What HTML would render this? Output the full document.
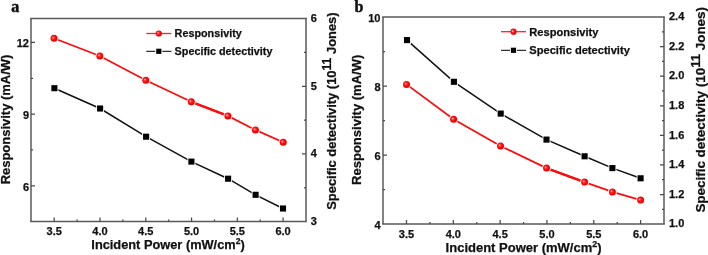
<!DOCTYPE html><html><head><meta charset="utf-8"><style>
html,body{margin:0;padding:0;background:#fff;}
svg{display:block;will-change:transform;}
text{font-family:"Liberation Sans",sans-serif;font-weight:bold;fill:#111;stroke:#111;stroke-width:0.25px;}
.t{font-size:11px;}
.ti{font-size:12.8px;}
.tr{font-size:12.8px;}
.lg{font-size:10.8px;}
.pl{font-family:"Liberation Serif",serif;font-size:16px;stroke:#111;stroke-width:0.45px;}
</style></head><body>
<svg width="708" height="255" viewBox="0 0 708 255">
<rect width="708" height="255" fill="#fff"/>
<defs><radialGradient id="sph" cx="0.45" cy="0.45" r="0.6" fx="0.36" fy="0.4">
<stop offset="0" stop-color="#ffe8e8"/><stop offset="0.28" stop-color="#ff3030"/><stop offset="0.65" stop-color="#ff0000"/><stop offset="1" stop-color="#e00000"/></radialGradient></defs>
<path d="M31 18.6V221.6M306 18.6V221.6" stroke="#6e6e6e" stroke-width="1.7" fill="none"/>
<path d="M30.15 18.6H306.85M30.15 221.6H306.85" stroke="#5a5a5a" stroke-width="1.5" fill="none"/>
<path d="M54.20 221.6v-4 M77.09 221.6v-2 M99.98 221.6v-4 M122.87 221.6v-2 M145.76 221.6v-4 M168.65 221.6v-2 M191.54 221.6v-4 M214.43 221.6v-2 M237.32 221.6v-4 M260.21 221.6v-2 M283.10 221.6v-4 M31 185.78h4 M31 149.95h2 M31 114.13h4 M31 78.31h2 M31 42.48h4 M306 187.77h-2 M306 153.93h-4 M306 120.10h-2 M306 86.27h-4 M306 52.43h-2" stroke="#4a4a4a" stroke-width="1.25" fill="none"/>
<text x="54.20" y="235.4" text-anchor="middle" class="t">3.5</text>
<text x="99.98" y="235.4" text-anchor="middle" class="t">4.0</text>
<text x="145.76" y="235.4" text-anchor="middle" class="t">4.5</text>
<text x="191.54" y="235.4" text-anchor="middle" class="t">5.0</text>
<text x="237.32" y="235.4" text-anchor="middle" class="t">5.5</text>
<text x="283.10" y="235.4" text-anchor="middle" class="t">6.0</text>
<text x="29" y="190.78" text-anchor="end" class="t">6</text>
<text x="29" y="119.13" text-anchor="end" class="t">9</text>
<text x="29" y="47.48" text-anchor="end" class="t">12</text>
<text x="310.7" y="224.90" text-anchor="start" class="t">3</text>
<text x="310.7" y="157.23" text-anchor="start" class="t">4</text>
<text x="310.7" y="89.57" text-anchor="start" class="t">5</text>
<text x="310.7" y="21.90" text-anchor="start" class="t">6</text>
<text x="168" y="249.2" text-anchor="middle" class="ti" style="font-size:12.8px">Incident Power (mW/cm<tspan dy="-5.6" font-size="8.5">2</tspan><tspan dy="5.6">)</tspan></text>
<text transform="translate(10.2,119.5) rotate(-90) scale(1.015,1)" text-anchor="middle" class="ti">Responsivity (mA/W)</text>
<text transform="translate(336,111.1) rotate(-90) scale(1.01,1)" text-anchor="middle" class="tr">Specific detectivity (10<tspan dy="-5.3" font-size="12">11</tspan><tspan dy="5.3"> Jones)</tspan></text>
<polyline points="54.40,88.20 100.10,108.50 146.10,136.70 191.40,161.60 228.10,178.70 255.60,194.80 283.00,208.50" fill="none" stroke="#111" stroke-width="1.5"/>
<polyline points="54.00,38.30 99.80,56.00 145.80,80.20 191.30,101.80 227.90,115.90 255.40,129.90 283.20,142.20" fill="none" stroke="#ff0a0a" stroke-width="1.7"/>
<line x1="191.3" y1="101.8" x2="227.9" y2="115.9" stroke="#ff0a0a" stroke-width="2.4"/>
<rect x="50.45" y="84.25" width="7.90" height="7.90" fill="#fff"/>
<rect x="96.15" y="104.55" width="7.90" height="7.90" fill="#fff"/>
<rect x="142.15" y="132.75" width="7.90" height="7.90" fill="#fff"/>
<rect x="187.45" y="157.65" width="7.90" height="7.90" fill="#fff"/>
<rect x="224.15" y="174.75" width="7.90" height="7.90" fill="#fff"/>
<rect x="251.65" y="190.85" width="7.90" height="7.90" fill="#fff"/>
<rect x="279.05" y="204.55" width="7.90" height="7.90" fill="#fff"/>
<circle cx="54.00" cy="38.30" r="4.40" fill="#fff"/>
<circle cx="99.80" cy="56.00" r="4.40" fill="#fff"/>
<circle cx="145.80" cy="80.20" r="4.40" fill="#fff"/>
<circle cx="191.30" cy="101.80" r="4.40" fill="#fff"/>
<circle cx="227.90" cy="115.90" r="4.40" fill="#fff"/>
<circle cx="255.40" cy="129.90" r="4.40" fill="#fff"/>
<circle cx="283.20" cy="142.20" r="4.40" fill="#fff"/>
<rect x="51.35" y="85.15" width="6.1" height="6.1" fill="#000"/>
<rect x="97.05" y="105.45" width="6.1" height="6.1" fill="#000"/>
<rect x="143.05" y="133.65" width="6.1" height="6.1" fill="#000"/>
<rect x="188.35" y="158.55" width="6.1" height="6.1" fill="#000"/>
<rect x="225.05" y="175.65" width="6.1" height="6.1" fill="#000"/>
<rect x="252.55" y="191.75" width="6.1" height="6.1" fill="#000"/>
<rect x="279.95" y="205.45" width="6.1" height="6.1" fill="#000"/>
<circle cx="54.00" cy="38.30" r="3.5" fill="url(#sph)"/>
<circle cx="99.80" cy="56.00" r="3.5" fill="url(#sph)"/>
<circle cx="145.80" cy="80.20" r="3.5" fill="url(#sph)"/>
<circle cx="191.30" cy="101.80" r="3.5" fill="url(#sph)"/>
<circle cx="227.90" cy="115.90" r="3.5" fill="url(#sph)"/>
<circle cx="255.40" cy="129.90" r="3.5" fill="url(#sph)"/>
<circle cx="283.20" cy="142.20" r="3.5" fill="url(#sph)"/>
<path d="M146.3 33.5h25" stroke="#ff2020" stroke-width="1.3"/>
<circle cx="158.8" cy="33.5" r="3.1" fill="url(#sph)"/>
<path d="M146.3 51.3h9M162.3 51.3h9" stroke="#333" stroke-width="1.3"/>
<rect x="156.20000000000002" y="48.699999999999996" width="5.2" height="5.2" fill="#000"/>
<text x="174.60000000000002" y="37.3" class="lg" style="font-size:10.8px">Responsivity</text>
<text x="174.60000000000002" y="55.099999999999994" class="lg" style="font-size:10.8px">Specific detectivity</text>
<text x="11.3" y="11.6" class="pl">a</text>
<path d="M383 17V224.1M664 17V224.1" stroke="#6e6e6e" stroke-width="1.7" fill="none"/>
<path d="M382.15 17H664.85M382.15 224.1H664.85" stroke="#5a5a5a" stroke-width="1.5" fill="none"/>
<path d="M406.50 224.1v-4 M429.91 224.1v-2 M453.32 224.1v-4 M476.73 224.1v-2 M500.14 224.1v-4 M523.55 224.1v-2 M546.96 224.1v-4 M570.37 224.1v-2 M593.78 224.1v-4 M617.19 224.1v-2 M640.60 224.1v-4 M383 189.58h2 M383 155.07h4 M383 120.55h2 M383 86.03h4 M383 51.52h2 M664 209.31h-2 M664 194.51h-4 M664 179.72h-2 M664 164.93h-4 M664 150.14h-2 M664 135.34h-4 M664 120.55h-2 M664 105.76h-4 M664 90.96h-2 M664 76.17h-4 M664 61.38h-2 M664 46.59h-4 M664 31.79h-2" stroke="#4a4a4a" stroke-width="1.25" fill="none"/>
<text x="406.50" y="237.9" text-anchor="middle" class="t">3.5</text>
<text x="453.32" y="237.9" text-anchor="middle" class="t">4.0</text>
<text x="500.14" y="237.9" text-anchor="middle" class="t">4.5</text>
<text x="546.96" y="237.9" text-anchor="middle" class="t">5.0</text>
<text x="593.78" y="237.9" text-anchor="middle" class="t">5.5</text>
<text x="640.60" y="237.9" text-anchor="middle" class="t">6.0</text>
<text x="380.5" y="229.00" text-anchor="end" class="t">4</text>
<text x="380.5" y="159.97" text-anchor="end" class="t">6</text>
<text x="380.5" y="90.93" text-anchor="end" class="t">8</text>
<text x="380.5" y="21.90" text-anchor="end" class="t">10</text>
<text x="669" y="227.30" text-anchor="start" class="t">1.0</text>
<text x="669" y="197.71" text-anchor="start" class="t">1.2</text>
<text x="669" y="168.13" text-anchor="start" class="t">1.4</text>
<text x="669" y="138.54" text-anchor="start" class="t">1.6</text>
<text x="669" y="108.96" text-anchor="start" class="t">1.8</text>
<text x="669" y="79.37" text-anchor="start" class="t">2.0</text>
<text x="669" y="49.79" text-anchor="start" class="t">2.2</text>
<text x="669" y="20.20" text-anchor="start" class="t">2.4</text>
<text x="523.6" y="252.3" text-anchor="middle" class="ti" style="font-size:13px">Incident Power (mW/cm<tspan dy="-5.6" font-size="9">2</tspan><tspan dy="5.6">)</tspan></text>
<text transform="translate(360.8,119.8) rotate(-90) scale(1.02,1)" text-anchor="middle" class="ti">Responsivity (mA/W)</text>
<text transform="translate(705.2,109.8) rotate(-90) scale(1.05,1)" text-anchor="middle" class="tr">Specific detectivity (10<tspan dy="-5.3" font-size="12.5">11</tspan><tspan dy="5.3"> Jones)</tspan></text>
<polyline points="407.00,40.10 453.90,81.80 500.70,113.60 546.50,139.60 584.60,156.30 612.40,168.10 640.60,178.30" fill="none" stroke="#111" stroke-width="1.5"/>
<polyline points="406.50,84.40 453.60,119.30 500.50,145.90 546.50,168.10 584.60,182.10 612.40,191.90 640.60,200.10" fill="none" stroke="#ff0a0a" stroke-width="1.7"/>
<line x1="546.5" y1="168.1" x2="584.6" y2="182.1" stroke="#ff0a0a" stroke-width="2.4"/>
<rect x="403.05" y="36.15" width="7.90" height="7.90" fill="#fff"/>
<rect x="449.95" y="77.85" width="7.90" height="7.90" fill="#fff"/>
<rect x="496.75" y="109.65" width="7.90" height="7.90" fill="#fff"/>
<rect x="542.55" y="135.65" width="7.90" height="7.90" fill="#fff"/>
<rect x="580.65" y="152.35" width="7.90" height="7.90" fill="#fff"/>
<rect x="608.45" y="164.15" width="7.90" height="7.90" fill="#fff"/>
<rect x="636.65" y="174.35" width="7.90" height="7.90" fill="#fff"/>
<circle cx="406.50" cy="84.40" r="4.40" fill="#fff"/>
<circle cx="453.60" cy="119.30" r="4.40" fill="#fff"/>
<circle cx="500.50" cy="145.90" r="4.40" fill="#fff"/>
<circle cx="546.50" cy="168.10" r="4.40" fill="#fff"/>
<circle cx="584.60" cy="182.10" r="4.40" fill="#fff"/>
<circle cx="612.40" cy="191.90" r="4.40" fill="#fff"/>
<circle cx="640.60" cy="200.10" r="4.40" fill="#fff"/>
<rect x="403.95" y="37.05" width="6.1" height="6.1" fill="#000"/>
<rect x="450.85" y="78.75" width="6.1" height="6.1" fill="#000"/>
<rect x="497.65" y="110.55" width="6.1" height="6.1" fill="#000"/>
<rect x="543.45" y="136.55" width="6.1" height="6.1" fill="#000"/>
<rect x="581.55" y="153.25" width="6.1" height="6.1" fill="#000"/>
<rect x="609.35" y="165.05" width="6.1" height="6.1" fill="#000"/>
<rect x="637.55" y="175.25" width="6.1" height="6.1" fill="#000"/>
<circle cx="406.50" cy="84.40" r="3.5" fill="url(#sph)"/>
<circle cx="453.60" cy="119.30" r="3.5" fill="url(#sph)"/>
<circle cx="500.50" cy="145.90" r="3.5" fill="url(#sph)"/>
<circle cx="546.50" cy="168.10" r="3.5" fill="url(#sph)"/>
<circle cx="584.60" cy="182.10" r="3.5" fill="url(#sph)"/>
<circle cx="612.40" cy="191.90" r="3.5" fill="url(#sph)"/>
<circle cx="640.60" cy="200.10" r="3.5" fill="url(#sph)"/>
<path d="M501 31.7h25" stroke="#ff2020" stroke-width="1.3"/>
<circle cx="513.5" cy="31.7" r="3.1" fill="url(#sph)"/>
<path d="M501 50.3h9M517 50.3h9" stroke="#333" stroke-width="1.3"/>
<rect x="510.9" y="47.699999999999996" width="5.2" height="5.2" fill="#000"/>
<text x="529.3" y="35.5" class="lg" style="font-size:11.1px">Responsivity</text>
<text x="529.3" y="54.099999999999994" class="lg" style="font-size:11.1px">Specific detectivity</text>
<text x="354.5" y="11.6" class="pl">b</text>
</svg></body></html>
